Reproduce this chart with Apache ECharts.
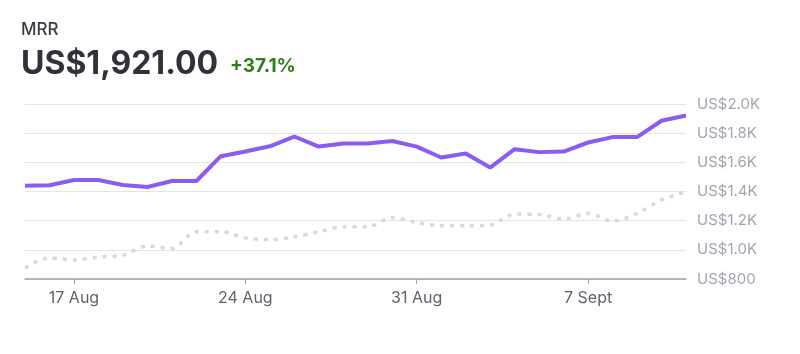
<!DOCTYPE html>
<html>
<head>
<meta charset="utf-8">
<script src="https://cdn.jsdelivr.net/npm/echarts@6/dist/echarts.min.js"></script>
<style>
  html, body { margin: 0; padding: 0; background: #fff; }
  #chart { width: 800px; height: 354px; }
</style>
</head>
<body>
<div id="chart"></div>
<script>
// 15 Aug .. 11 Sept, one point per day
const days = [
  '15 Aug', '16 Aug', '17 Aug', '18 Aug', '19 Aug', '20 Aug', '21 Aug',
  '22 Aug', '23 Aug', '24 Aug', '25 Aug', '26 Aug', '27 Aug', '28 Aug',
  '29 Aug', '30 Aug', '31 Aug', '1 Sept', '2 Sept', '3 Sept', '4 Sept',
  '5 Sept', '6 Sept', '7 Sept', '8 Sept', '9 Sept', '10 Sept', '11 Sept'
];
const shownLabels = ['17 Aug', '24 Aug', '31 Aug', '7 Sept'];

// current period MRR
const mrrCurrent = [
  1440, 1443, 1479, 1479, 1445, 1431, 1472, 1472, 1642, 1674,
  1710, 1777, 1708, 1729, 1729, 1746, 1708, 1633, 1660, 1564,
  1690, 1670, 1674, 1736, 1773, 1773, 1885, 1921
];
// previous period MRR
const mrrPrevious = [
  876, 945, 931, 951, 963, 1027, 1009, 1124, 1124, 1082,
  1070, 1089, 1124, 1158, 1158, 1220, 1188, 1165, 1165, 1170,
  1245, 1243, 1211, 1250, 1197, 1250, 1342, 1399
];

const chartDom = document.getElementById('chart');
const myChart = echarts.init(chartDom);

const fontFamily = 'Inter, "Noto Sans", sans-serif';

const option = {
  animation: false,
  title: [
    {
      text: 'MRR',
      left: 16,
      top: 16,
      textStyle: {
        fontFamily: fontFamily,
        fontSize: 17,
        fontWeight: 500,
        color: '#3b3d45'
      }
    },
    {
      text: '{a|US$1,921.00}{b|+37.1%}',
      left: 16,
      top: 43.5,
      textStyle: {
        rich: {
          a: {
            fontFamily: fontFamily,
            fontSize: 32,
            fontWeight: 'bold',
            color: '#30323b'
          },
          b: {
            fontFamily: fontFamily,
            fontSize: 19,
            fontWeight: 'bold',
            color: '#2f7d1e',
            padding: [0, 0, -3, 12]
          }
        }
      }
    }
  ],
  grid: {
    left: 25,
    right: 114,
    top: 104,
    bottom: 75
  },
  xAxis: {
    type: 'category',
    data: days,
    boundaryGap: false,
    axisLine: {
      lineStyle: { color: '#9ea3ad', width: 1.5 }
    },
    axisTick: {
      show: true,
      alignWithLabel: true,
      length: 5,
      interval: function (idx, val) { return shownLabels.includes(val); },
      lineStyle: { color: '#9ea3ad' }
    },
    axisLabel: {
      interval: function (idx, val) { return shownLabels.includes(val); },
      fontFamily: fontFamily,
      fontSize: 16,
      color: '#5f636d',
      margin: 11
    },
    splitLine: { show: false }
  },
  yAxis: {
    type: 'value',
    position: 'right',
    min: 800,
    max: 2000,
    interval: 200,
    axisLine: { show: false },
    axisTick: { show: false },
    axisLabel: {
      fontFamily: fontFamily,
      fontSize: 15,
      color: '#a0a5b0',
      margin: 11,
      formatter: function (v) {
        if (v >= 1000) return 'US$' + (v / 1000).toFixed(1) + 'K';
        return 'US$' + v;
      }
    },
    splitLine: {
      show: true,
      lineStyle: { color: '#e3e5ea', width: 1 }
    }
  },
  series: [
    {
      name: 'Previous',
      type: 'line',
      data: mrrPrevious,
      smooth: 0.3,
      symbol: 'none',
      lineStyle: {
        color: '#d8d9de',
        width: 3.5,
        type: [4, 6]
      },
      z: 1
    },
    {
      name: 'MRR',
      type: 'line',
      data: mrrCurrent,
      symbol: 'none',
      lineStyle: {
        color: '#8c5cf2',
        width: 4
      },
      z: 2
    }
  ]
};

myChart.setOption(option);
</script>
</body>
</html>
